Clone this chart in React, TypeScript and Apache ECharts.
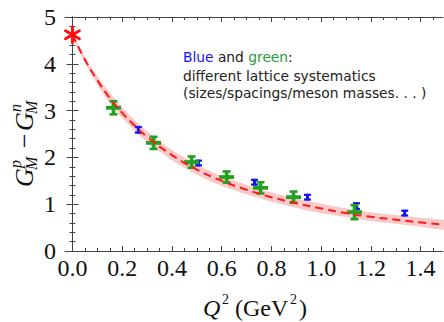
import React, { useEffect, useRef } from "react";
import * as echarts from "echarts";

// ---- data ----
const starQ = [0];
const starG = [4.62];

// blue lattice points: Q^2, G, error
const blueQ = [0.265, 0.507, 0.732, 0.945, 1.142, 1.336];
const blueG = [2.59, 1.88, 1.47, 1.15, 0.96, 0.81];
const blueErr = [0.06, 0.05, 0.05, 0.05, 0.06, 0.05];

// green lattice points
const greenQ = [0.165, 0.326, 0.479, 0.62, 0.756, 0.889, 1.134];
const greenG = [3.06, 2.31, 1.9, 1.58, 1.35, 1.15, 0.83];
const greenErr = [0.14, 0.13, 0.12, 0.12, 0.12, 0.12, 0.15];

// fit curve and its band
const curveQ = [0, 0.05, 0.1, 0.15, 0.2, 0.25, 0.3, 0.4, 0.5, 0.6, 0.7, 0.8, 0.9, 1.0, 1.1, 1.2, 1.3, 1.4, 1.5];
const curveG = [4.62, 4.09, 3.65, 3.27, 2.95, 2.68, 2.44, 2.05, 1.74, 1.5, 1.31, 1.15, 1.02, 0.91, 0.81, 0.73, 0.67, 0.61, 0.56];
const bandLow = [4.6, 4.02, 3.56, 3.16, 2.84, 2.57, 2.33, 1.94, 1.63, 1.39, 1.21, 1.05, 0.92, 0.81, 0.72, 0.64, 0.58, 0.52, 0.46];
const bandHigh = [4.64, 4.15, 3.74, 3.38, 3.07, 2.8, 2.56, 2.16, 1.85, 1.6, 1.41, 1.25, 1.12, 1.01, 0.91, 0.83, 0.77, 0.71, 0.65];

// ticks
const xMajor = [0, 0.2, 0.4, 0.6, 0.8, 1.0, 1.2, 1.4];
const xMinor = [0, 0.05, 0.1, 0.15, 0.2, 0.25, 0.3, 0.35, 0.4, 0.45, 0.5, 0.55, 0.6, 0.65, 0.7, 0.75, 0.8, 0.85, 0.9, 0.95, 1.0, 1.05, 1.1, 1.15, 1.2, 1.25, 1.3, 1.35, 1.4, 1.45];
const xMin = -0.03;
const xMax = 1.49;

const SERIF = "'Liberation Serif', 'Times New Roman', serif";
const SANS = "'DejaVu Sans', sans-serif";
const BLUE = "#1414f0";
const GREEN = "#22a022";
const AXIS = "#444";

export default function App() {
  const ref = useRef<HTMLDivElement>(null);
  useEffect(() => {
    if (!ref.current) return;
    document.body.style.margin = "0";
    const chart = echarts.init(ref.current, null, { renderer: "svg" });

    const baseX = {
      type: "value",
      min: xMin,
      max: xMax,
      splitLine: { show: false },
    };

    const numRich = { a: { fontFamily: SERIF, fontSize: 24, color: "#111" } };

    const xAxes: any[] = [
      {
        ...baseX,
        position: "bottom",
        axisLine: { show: true, lineStyle: { color: AXIS, width: 1 } },
        axisTick: { show: true, inside: true, length: 5, customValues: xMajor, lineStyle: { color: AXIS } },
        axisLabel: {
          show: true,
          customValues: xMajor,
          formatter: (v: number) => `{a|${v.toFixed(1)}}`,
          rich: numRich,
          fontFamily: SERIF,
          fontSize: 24,
          color: "#111",
          margin: 5,
        },
      },
      {
        ...baseX,
        position: "bottom",
        axisLine: { show: false },
        axisTick: { show: true, inside: true, length: 3, customValues: xMinor, lineStyle: { color: AXIS } },
        axisLabel: { show: false },
      },
      {
        ...baseX,
        position: "top",
        axisLine: { show: true, lineStyle: { color: AXIS, width: 1 } },
        axisTick: { show: true, inside: true, length: 5, customValues: xMajor, lineStyle: { color: AXIS } },
        axisLabel: { show: false },
      },
      {
        ...baseX,
        position: "top",
        axisLine: { show: false },
        axisTick: { show: true, inside: true, length: 3, customValues: xMinor, lineStyle: { color: AXIS } },
        axisLabel: { show: false },
      },
    ];

    const baseY = {
      type: "value",
      min: 0,
      max: 5,
      interval: 1,
      splitLine: { show: false },
      minorSplitLine: { show: false },
      axisLine: { show: true, lineStyle: { color: AXIS, width: 1 } },
      axisTick: { show: true, inside: true, length: 6, lineStyle: { color: AXIS } },
      minorTick: { show: true, splitNumber: 5, length: 3, lineStyle: { color: AXIS } },
    };

    const yAxes: any[] = [
      {
        ...baseY,
        position: "left",
        axisLabel: {
          show: true,
          formatter: (v: number) => `{a|${v}}`,
          rich: numRich,
          fontFamily: SERIF,
          fontSize: 24,
          color: "#111",
          margin: 9,
        },
      },
      { ...baseY, position: "right", axisLabel: { show: false } },
    ];

    const errData = (q: number[], g: number[], e: number[]) => q.map((v, i) => [v, g[i], e[i]]);

    const bandRender = (params: any, api: any) => {
      const pts: number[][] = [];
      for (let i = 0; i < curveQ.length; i++) pts.push(api.coord([curveQ[i], bandHigh[i]]));
      for (let i = curveQ.length - 1; i >= 0; i--) pts.push(api.coord([curveQ[i], bandLow[i]]));
      return {
        type: "polygon",
        shape: { points: pts, smooth: 0.2 },
        style: { fill: "rgba(248, 120, 120, 0.4)", stroke: "none" },
      };
    };

    const blueRender = (params: any, api: any) => {
      const x = api.value(0), y = api.value(1), e = api.value(2);
      const t = api.coord([x, y + e]);
      const b = api.coord([x, y - e]);
      const st = { stroke: BLUE, lineWidth: 2.2 };
      return {
        type: "group",
        children: [
          { type: "line", shape: { x1: t[0], y1: t[1] - 1, x2: b[0], y2: b[1] + 1 }, style: { stroke: BLUE, lineWidth: 3 } },
          { type: "line", shape: { x1: t[0] - 3.5, y1: t[1], x2: t[0] + 3.5, y2: t[1] }, style: st },
          { type: "line", shape: { x1: b[0] - 3.5, y1: b[1], x2: b[0] + 3.5, y2: b[1] }, style: st },
        ],
      };
    };

    const greenRender = (params: any, api: any) => {
      const x = api.value(0), y = api.value(1), e = api.value(2);
      const c = api.coord([x, y]);
      const t = api.coord([x, y + e]);
      const b = api.coord([x, y - e]);
      const st = { stroke: GREEN, lineWidth: 2.6 };
      return {
        type: "group",
        children: [
          { type: "line", shape: { x1: t[0], y1: t[1], x2: b[0], y2: b[1] }, style: { stroke: GREEN, lineWidth: 3.6 } },
          { type: "line", shape: { x1: t[0] - 4, y1: t[1], x2: t[0] + 4, y2: t[1] }, style: st },
          { type: "line", shape: { x1: b[0] - 4, y1: b[1], x2: b[0] + 4, y2: b[1] }, style: st },
          { type: "line", shape: { x1: c[0] - 7.5, y1: c[1], x2: c[0] + 7.5, y2: c[1] }, style: { stroke: GREEN, lineWidth: 3.8 } },
        ],
      };
    };

    const starRender = (params: any, api: any) => {
      const c = api.coord([api.value(0), api.value(1)]);
      const r = 8;
      const st = { stroke: "#ff1010", lineWidth: 3, lineCap: "round" };
      const arms = [90, 30, -30].map((deg) => {
        const a = (deg * Math.PI) / 180;
        const dx = r * Math.cos(a), dy = r * Math.sin(a);
        return { type: "line", shape: { x1: c[0] - dx, y1: c[1] - dy, x2: c[0] + dx, y2: c[1] + dy }, style: st };
      });
      return { type: "group", children: arms };
    };

    const ySub = (text: string, x: number, y: number, size: number) => ({
      type: "text",
      x,
      y,
      style: { text, fontSize: size, fontStyle: "italic", fontFamily: SERIF, fill: "#111", align: "left", verticalAlign: "middle" },
    });

    const txt = (text: string, x: number, y: number, size: number, opts: any = {}) => ({
      type: "text",
      x,
      y,
      style: { text, fontSize: size, fontFamily: SERIF, fill: "#111", align: "left", verticalAlign: "middle", ...opts },
    });

    chart.setOption({
      animation: false,
      textStyle: { fontFamily: SERIF },
      grid: { left: 65, right: 1, top: 17, bottom: 71, containLabel: false },
      xAxis: xAxes,
      yAxis: yAxes,
      series: [
        {
          type: "custom",
          name: "band",
          renderItem: bandRender,
          data: [[0, 0]],
          z: 1,
          silent: true,
        },
        {
          type: "custom",
          name: "blue",
          renderItem: blueRender,
          data: errData(blueQ, blueG, blueErr),
          encode: { x: 0, y: 1 },
          z: 2,
        },
        {
          type: "custom",
          name: "green",
          renderItem: greenRender,
          data: errData(greenQ, greenG, greenErr),
          encode: { x: 0, y: 1 },
          z: 3,
        },
        {
          type: "line",
          name: "fit",
          data: curveQ.map((q, i) => [q, curveG[i]]),
          smooth: true,
          showSymbol: false,
          symbol: "none",
          lineStyle: { color: "#ff1a1a", width: 2, type: [8, 5] },
          z: 4,
        },
        {
          type: "custom",
          name: "star",
          renderItem: starRender,
          data: starQ.map((q, i) => [q, starG[i]]),
          encode: { x: 0, y: 1 },
          z: 5,
          clip: false,
        },
      ],
      graphic: [
        {
          type: "text",
          x: 183,
          y: 57,
          style: {
            text: "{b|Blue} and {g|green}:",
            fontFamily: SANS,
            fontSize: 13.8,
            fill: "#222",
            align: "left",
            verticalAlign: "middle",
            rich: {
              b: { fill: BLUE, fontFamily: SANS, fontSize: 13.8 },
              g: { fill: "#2a9a3a", fontFamily: SANS, fontSize: 13.8 },
            },
          },
        },
        {
          type: "text",
          x: 183,
          y: 76,
          style: { text: "different lattice systematics", fontFamily: SANS, fontSize: 13.8, fill: "#222", align: "left", verticalAlign: "middle" },
        },
        {
          type: "text",
          x: 183,
          y: 93,
          style: { text: "(sizes/spacings/meson masses. . . )", fontFamily: SANS, fontSize: 13.8, fill: "#222", align: "left", verticalAlign: "middle" },
        },
        {
          type: "group",
          children: [
            txt("Q", 203, 308, 24, { fontStyle: "italic" }),
            txt("2", 222, 299, 14),
            txt("(GeV", 235, 308, 24),
            txt("2", 290, 299, 14),
            txt(")", 299, 308, 24),
          ],
        },
        {
          type: "group",
          x: 24,
          y: 187,
          rotation: Math.PI / 2,
          children: [
            ySub("G", 0, 0, 26),
            ySub("M", 17, 7, 16),
            ySub("p", 19, -9, 16),
            ySub("\u2212", 37, 0, 26),
            ySub("G", 56, 0, 26),
            ySub("M", 73, 7, 16),
            ySub("n", 75, -9, 16),
          ],
        },
      ],
    });
    return () => chart.dispose();
  }, []);

  return <div ref={ref} style={{ width: 444, height: 322, position: "absolute", left: 0, top: 0 }} />;
}
